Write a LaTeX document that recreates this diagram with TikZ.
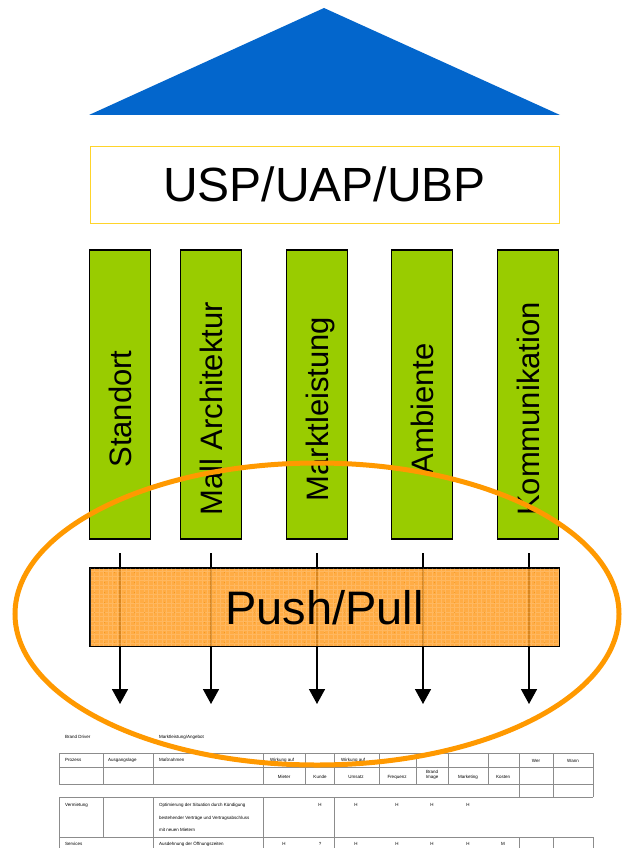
\documentclass[tikz,border=0pt]{standalone}
\usepackage{fontspec}
\setmainfont{Liberation Sans}
\usetikzlibrary{arrows.meta,calc}
\definecolor{roofblue}{HTML}{0366CC}
\definecolor{pillargreen}{HTML}{99CC00}
\definecolor{uspline}{HTML}{FFD42A}
\definecolor{pushfill}{HTML}{FF9E25}
\definecolor{pushdot}{HTML}{F08C00}
\definecolor{ringorange}{HTML}{FF9900}
\definecolor{tablegray}{HTML}{8C8C8C}

\begin{document}
\begin{tikzpicture}[x=1pt,y=-1pt,
  pillar/.style={draw=black, line width=1.3pt, fill=pillargreen,
    minimum width=61pt, minimum height=289pt, inner sep=0pt},
  pillarlabel/.style={rotate=90, inner sep=0pt, font=\fontsize{31}{36}\selectfont,
    text height=22pt, text depth=0pt},
  bigbox/.style={minimum width=469pt, inner sep=0pt},
  bigtext/.style={inner sep=0pt, text height=34pt, text depth=0pt},
  flow/.style={line width=1.6pt, -{Triangle[width=16pt,length=15pt]}},
  tline/.style={draw=tablegray, line width=0.9pt},
  ttext/.style={inner sep=0pt, anchor=west, font=\fontsize{4.5}{5.5}\selectfont},
  tmid/.style={inner sep=0pt, anchor=center, font=\fontsize{4.5}{5.5}\selectfont, align=center}
]
% canvas
\useasboundingbox (0,0) rectangle (624,848);
\fill[white] (0,0) rectangle (624,848);

% roof
\fill[roofblue] (89,115) -- (324,8) -- (560,115) -- cycle;

% USP bar
\node[bigbox, minimum height=77pt, draw=uspline, line width=1pt, fill=white] (usp) at (324.5,184.5) {};
\node[bigtext, font=\fontsize{48}{56}\selectfont] (usplabel) at (usp.center) {USP/UAP/UBP};

% flow arrows (start and end points)
\foreach \i/\x in {1/120,2/211,3/317,4/423,5/529} {
  \coordinate (s\i) at (\x,553);
  \coordinate (e\i) at (\x,704);
}
\foreach \i in {1,...,5} \draw[flow] (s\i) -- (e\i);

% Push/Pull bar, translucent over the arrows, with a fine grid texture
\node[bigbox, minimum height=78pt, fill=pushfill, fill opacity=0.85, draw=black, line width=0.8pt] (push) at (324.5,607) {};
\begin{scope}
  \clip (push.south west) rectangle (push.north east);
  \draw[white, opacity=0.15, line width=1pt, step=4.5pt] (push.south west) grid (push.north east);
  \foreach \gx in {0,...,46} \foreach \gy in {0,...,7}
    \fill[pushdot, opacity=0.6] ($(push.north west)+(5+10*\gx,5+10*\gy)$) circle (0.6pt);
\end{scope}
\draw[black, line width=0.8pt] (push.south west) rectangle (push.north east);
\node[bigtext, font=\fontsize{47}{55}\selectfont] (pushlabel) at (324.5,607) {Push/Pull};

% pillars
\foreach \i/\x/\t in {1/120/Standort, 2/211/Mall Architektur, 3/317/Marktleistung, 4/422/Ambiente, 5/528/Kommunikation} {
  \node[pillar] (p\i) at (\x,394.5) {};
  \node[pillarlabel] (pl\i) at (\x,409) {\t};
}

% table: header block
\node[ttext] (brand) at (65,737) {Brand Driver};
\node[ttext] (driver) at (159,737) {Marktleistung/Angebot};
\draw[tline] (59,753) rectangle (593,784);
\draw[tline] (59,767) -- (593,767);
\foreach \x in {103,153,263,305,334,379,416,448,488,519,553}
  \draw[tline] (\x,753) -- (\x,784);
\draw[tline] (519,784) -- (519,797) (553,784) -- (553,797) (593,784) -- (593,797);
\node[ttext] (hproc) at (65,760) {Prozess};
\node[ttext] (hlage) at (108,760) {Ausgangslage};
\node[ttext] (hmass) at (159,760) {Maßnahmen};
\node[ttext] (hwirk1) at (270,760) {Wirkung auf};
\node[ttext] (hwirk2) at (341,760) {Wirkung auf};
\node[tmid] (hwer) at (536,761) {Wer};
\node[tmid] (hwann) at (573,761) {Wann};
\node[tmid] (hmieter) at (284,777) {Mieter};
\node[tmid] (hkunde) at (320,777) {Kunde};
\node[tmid] (humsatz) at (356,777) {Umsatz};
\node[tmid] (hfreq) at (397,777) {Frequenz};
\node[tmid] (himage) at (432,775) {Brand\\Image};
\node[tmid] (hmarket) at (468,777) {Marketing};
\node[tmid] (hkosten) at (503,777) {Kosten};

% table: body
\draw[tline] (59,797) -- (593,797);
\draw[tline] (59,837) -- (593,837);
\foreach \x in {59,103,153,263,334}
  \draw[tline] (\x,797) -- (\x,837);
\foreach \x in {59,153,263,334,519,553,593}
  \draw[tline] (\x,837) -- (\x,848);
\node[ttext] (rverm) at (65,805) {Vermietung};
\node[ttext] (rverm1) at (159,805) {Optimierung der Situation durch Kündigung};
\node[ttext] (rverm2) at (159,818) {bestehender Verträge und Vertragsabschluss};
\node[ttext] (rverm3) at (159,830) {mit neuen Mietern};
\foreach \x [count=\k] in {320,356,397,432,468}
  \node[tmid] (mv\k) at (\x,805) {H};
\node[ttext] (rserv) at (65,844) {Services};
\node[ttext] (rserv1) at (159,844) {Ausdehnung der Öffnungszeiten};
\foreach \x/\m [count=\k] in {284/H,320/?,356/H,397/H,432/H,468/H,503/M}
  \node[tmid] (ms\k) at (\x,844) {\m};

% highlight ring
\draw[ringorange, line width=5pt] (317,614) ellipse [x radius=302, y radius=151];
\end{tikzpicture}
\end{document}
